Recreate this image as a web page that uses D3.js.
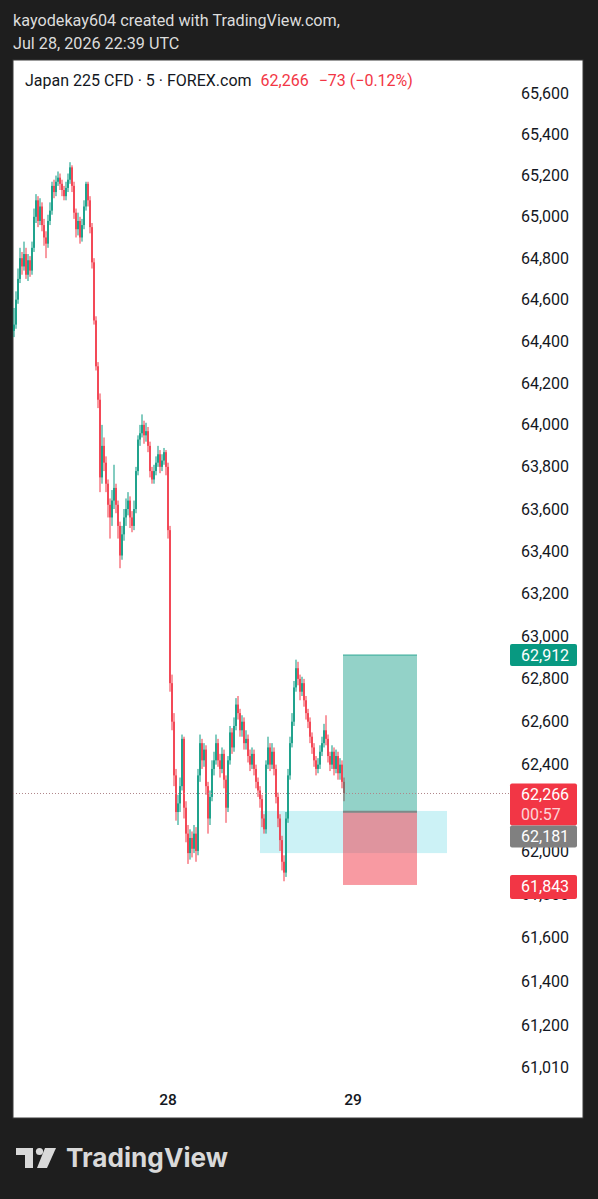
<!DOCTYPE html>
<html><head><meta charset="utf-8">
<script src="https://cdn.jsdelivr.net/npm/d3@7"></script>
<style>html,body{margin:0;padding:0;background:#1e1e1e;} svg{display:block}</style>
</head><body><svg id="c" width="598" height="1199"></svg>
<script>
// ---- data ----
const firstOpen = 64450;
const closes = [
64480,64600,64700,64800,64760,64820,64720,64790,64740,64850,
65000,65080,64980,65050,64960,64900,64870,64980,65030,65150,
65120,65170,65190,65160,65130,65100,65140,65180,65240,65150,
65020,64940,64980,64900,64960,65050,65160,65080,64950,64780,
64500,64280,64120,63750,63900,63820,63720,63620,63560,63640,
63700,63620,63520,63380,63480,63560,63600,63640,63560,63520,
63600,63780,63930,63960,64000,63950,63970,63900,63780,63740,
63780,63820,63860,63800,63830,63870,63800,63500,62780,62600,
62350,62180,62220,62300,62520,62200,62080,61990,62060,62010,
62080,62000,62350,62500,62420,62470,62300,62150,62250,62380,
62420,62500,62420,62380,62450,62330,62200,62420,62550,62480,
62580,62680,62640,62560,62600,62500,62520,62440,62400,62450,
62380,62320,62280,62240,62150,62100,62400,62480,62400,62460,
62380,62250,62150,62050,61950,61900,62150,62350,62500,62600,
62760,62850,62800,62740,62780,62700,62640,62600,62530,62480,
62420,62380,62400,62460,62500,62560,62520,62440,62400,62460,
62380,62440,62360,62400,62320,62266];
const highs = [
64560,64640,64750,64850,64830,64880,64850,64820,64810,64880,
65040,65110,65100,65090,65070,64990,64930,65010,65070,65170,
65180,65200,65220,65210,65180,65150,65170,65210,65265,65250,
65170,65040,65020,65000,64990,65080,65170,65170,65100,64970,
64800,64520,64300,64150,64000,63940,63850,63740,63650,63690,
63810,63720,63640,63540,63520,63600,63650,63680,63660,63590,
63640,63800,63950,64000,64050,64020,64010,63990,63920,63800,
63810,63850,63900,63880,63860,63890,63880,63820,63520,62820,
62640,62380,62260,62340,62540,62530,62230,62120,62100,62090,
62120,62110,62380,62540,62520,62500,62490,62320,62280,62420,
62460,62540,62520,62450,62480,62470,62350,62440,62580,62570,
62620,62710,62720,62660,62630,62620,62560,62540,62470,62480,
62470,62400,62340,62300,62260,62170,62420,62530,62500,62500,
62480,62400,62270,62170,62070,61980,62180,62380,62530,62640,
62790,62890,62880,62820,62810,62800,62720,62660,62620,62550,
62500,62440,62430,62490,62530,62590,62630,62540,62460,62490,
62480,62470,62460,62430,62420,62340];
const lows = [
64420,64460,64580,64680,64720,64740,64700,64690,64710,64720,
64830,64970,64950,64960,64930,64860,64800,64850,64960,65010,
65090,65100,65150,65130,65100,65080,65080,65120,65160,65120,
64990,64900,64910,64870,64880,64940,65030,65050,64920,64750,
64480,64260,64080,63680,63720,63780,63680,63560,63460,63520,
63600,63580,63460,63320,63360,63450,63520,63570,63510,63490,
63500,63580,63760,63900,63940,63910,63920,63870,63750,63720,
63720,63760,63800,63770,63780,63810,63760,63460,62740,62560,
62300,62140,62120,62180,62280,62150,62040,61940,61960,61970,
61990,61950,61980,62320,62380,62390,62260,62080,62120,62230,
62350,62400,62390,62340,62360,62290,62130,62180,62400,62450,
62460,62560,62610,62530,62530,62470,62470,62410,62370,62380,
62350,62290,62250,62200,62110,62080,62080,62380,62370,62380,
62350,62220,62110,62000,61910,61860,61880,62130,62330,62480,
62580,62740,62770,62700,62720,62670,62610,62570,62500,62450,
62390,62350,62360,62380,62440,62480,62490,62410,62370,62380,
62350,62360,62330,62330,62290,62230];
// 62,200 is fully hidden behind the last-price label in the reference
const priceTicks = [65600,65400,65200,65000,64800,64600,64400,64200,64000,63800,63600,63400,63200,63000,62800,62600,62400,62000,61800,61600,61400,61200,61010];
const dateTickIndex = [77, 169.5];
const dateTickLabels = ["28", "29"];
const lastPrice = 62266, lastChange = -73, lastChangePct = -0.12, countdown = "00:57";
const targetPrice = 62912, entryPrice = 62181, stopPrice = 61843;
const positionIndex = [164.5, 201.5];
const zoneIndex = [123, 216.5];
const zonePrices = [62185, 61990];

// ---- layout ----
const svg = d3.select("#c");
const W = 598, H = 1199;
const panel = {x: 13, y: 60, w: 570, h: 1058};
const plotRight = 508;
const fmt = d3.format(",");
const FONT = "Roboto, 'Noto Sans', sans-serif";

svg.append("rect").attr("width", W).attr("height", H).attr("fill", "#1e1e1e");
svg.append("rect").attr("x", panel.x).attr("y", panel.y).attr("width", panel.w).attr("height", panel.h)
  .attr("fill", "#ffffff").attr("stroke", "#3a3a3a").attr("stroke-width", 1);

const y = d3.scaleLog().domain([65764, 60928]).range([60, 1085]);
const x = d3.scaleLinear().domain([0, closes.length - 1]).range([14, 344]);

svg.append("defs").append("clipPath").attr("id", "plot")
  .append("rect").attr("x", panel.x).attr("y", panel.y).attr("width", plotRight - panel.x).attr("height", 1085 - panel.y);

// header
const hdr = svg.append("g").attr("font-family", FONT).attr("fill", "#dcdcdc").attr("font-size", 16.2);
hdr.append("text").attr("x", 13).attr("y", 26).text("kayodekay604 created with TradingView.com,");
hdr.append("text").attr("x", 13).attr("y", 49).text("Jul 28, 2026 22:39 UTC");

// price axis labels
const axisG = svg.append("g").attr("font-family", FONT).attr("font-size", 16).attr("fill", "#131722");
axisG.selectAll("text").data(priceTicks).join("text")
  .attr("x", 569).attr("y", d => y(d)).attr("dy", "0.35em").attr("text-anchor", "end").text(d => fmt(d));

// time axis labels
svg.append("g").attr("font-family", FONT).attr("font-size", 15.5).attr("font-weight", 500).attr("fill", "#131722")
  .selectAll("text").data(dateTickIndex).join("text")
  .attr("x", d => x(d)).attr("y", 1100).attr("dy", "0.35em").attr("text-anchor", "middle").text((d, i) => dateTickLabels[i]);

const plot = svg.append("g").attr("clip-path", "url(#plot)");

// zone
plot.append("rect").attr("x", x(zoneIndex[0])).attr("y", y(zonePrices[0]))
  .attr("width", x(zoneIndex[1]) - x(zoneIndex[0])).attr("height", y(zonePrices[1]) - y(zonePrices[0]))
  .attr("fill", "rgba(0,188,212,0.2)");

// candles
const candles = closes.map((c, i) => ({i, o: i === 0 ? firstOpen : closes[i - 1], h: highs[i], l: lows[i], c}));
const cg = plot.append("g");
cg.selectAll("line").data(candles).join("line")
  .attr("x1", d => x(d.i)).attr("x2", d => x(d.i))
  .attr("y1", d => y(d.h)).attr("y2", d => y(d.l))
  .attr("stroke", d => d.c >= d.o ? "#089981" : "#f23645").attr("stroke-width", 1);
cg.selectAll("rect").data(candles).join("rect")
  .attr("x", d => x(d.i) - 0.8).attr("width", 1.6)
  .attr("y", d => y(Math.max(d.o, d.c))).attr("height", d => Math.max(1, Math.abs(y(d.o) - y(d.c))))
  .attr("fill", d => d.c >= d.o ? "#089981" : "#f23645");

// long position
const px0 = x(positionIndex[0]), px1 = x(positionIndex[1]);
plot.append("rect").attr("x", px0).attr("y", y(targetPrice)).attr("width", px1 - px0)
  .attr("height", y(entryPrice) - y(targetPrice)).attr("fill", "rgba(8,153,129,0.44)");
plot.append("rect").attr("x", px0).attr("y", y(entryPrice)).attr("width", px1 - px0)
  .attr("height", y(stopPrice) - y(entryPrice)).attr("fill", "rgba(242,54,69,0.5)");
plot.append("line").attr("x1", px0).attr("x2", px1).attr("y1", y(targetPrice)).attr("y2", y(targetPrice))
  .attr("stroke", "rgba(8,153,129,0.5)").attr("stroke-width", 1.5);
plot.append("line").attr("x1", px0).attr("x2", px1).attr("y1", y(entryPrice)).attr("y2", y(entryPrice))
  .attr("stroke", "#7d8a88").attr("stroke-width", 2);

// last price line
svg.append("line").attr("x1", panel.x).attr("x2", 510).attr("y1", y(lastPrice)).attr("y2", y(lastPrice))
  .attr("stroke", "#b0868a").attr("stroke-width", 1).attr("stroke-dasharray", "1,2");

// legend title
const title = svg.append("text").attr("x", 25).attr("y", 86).attr("font-family", FONT).attr("font-size", 16);
title.append("tspan").attr("fill", "#131722").text("Japan 225 CFD · 5 · FOREX.com");
title.append("tspan").attr("fill", "#f23645").attr("dx", 9).text(fmt(lastPrice));
title.append("tspan").attr("fill", "#f23645").attr("dx", 10).text("\u2212" + Math.abs(lastChange) + " (\u2212" + Math.abs(lastChangePct).toFixed(2) + "%)");

// price labels on axis
const lab = svg.append("g").attr("font-family", FONT).attr("font-size", 16);
function box(y0, h, fill, lines) {
  lab.append("rect").attr("x", 510).attr("y", y0).attr("width", 67).attr("height", h).attr("rx", 2).attr("fill", fill);
  lines.forEach((t, k) => lab.append("text").attr("x", 521).attr("y", y0 + 11 + k * 20).attr("dy", "0.35em")
    .attr("text-anchor", "start").attr("fill", k === 0 ? "#ffffff" : "rgba(255,255,255,0.8)").text(t));
}
box(y(targetPrice) - 11, 22, "#089981", [fmt(targetPrice)]);
box(y(lastPrice) - 10, 42, "#f23645", [fmt(lastPrice), countdown]);
box(y(lastPrice) + 32, 22, "#808080", [fmt(entryPrice)]);
box(y(stopPrice) - 10, 24, "#f23645", [fmt(stopPrice)]);

// TradingView logo
const logo = svg.append("g").attr("fill", "#d9d9d9");
logo.append("path").attr("d", "M16,1148 H33 V1168 H25 V1155 H16 Z");
logo.append("circle").attr("cx", 39.5).attr("cy", 1151.5).attr("r", 3.6);
logo.append("path").attr("d", "M45,1148 H56 L47,1168 H37 Z");
logo.append("text").attr("x", 66).attr("y", 1167).attr("font-family", "Inter, 'Noto Sans', sans-serif")
  .attr("font-weight", 700).attr("font-size", 26).attr("textLength", 162).attr("lengthAdjust", "spacingAndGlyphs")
  .text("TradingView");
</script></body></html>
